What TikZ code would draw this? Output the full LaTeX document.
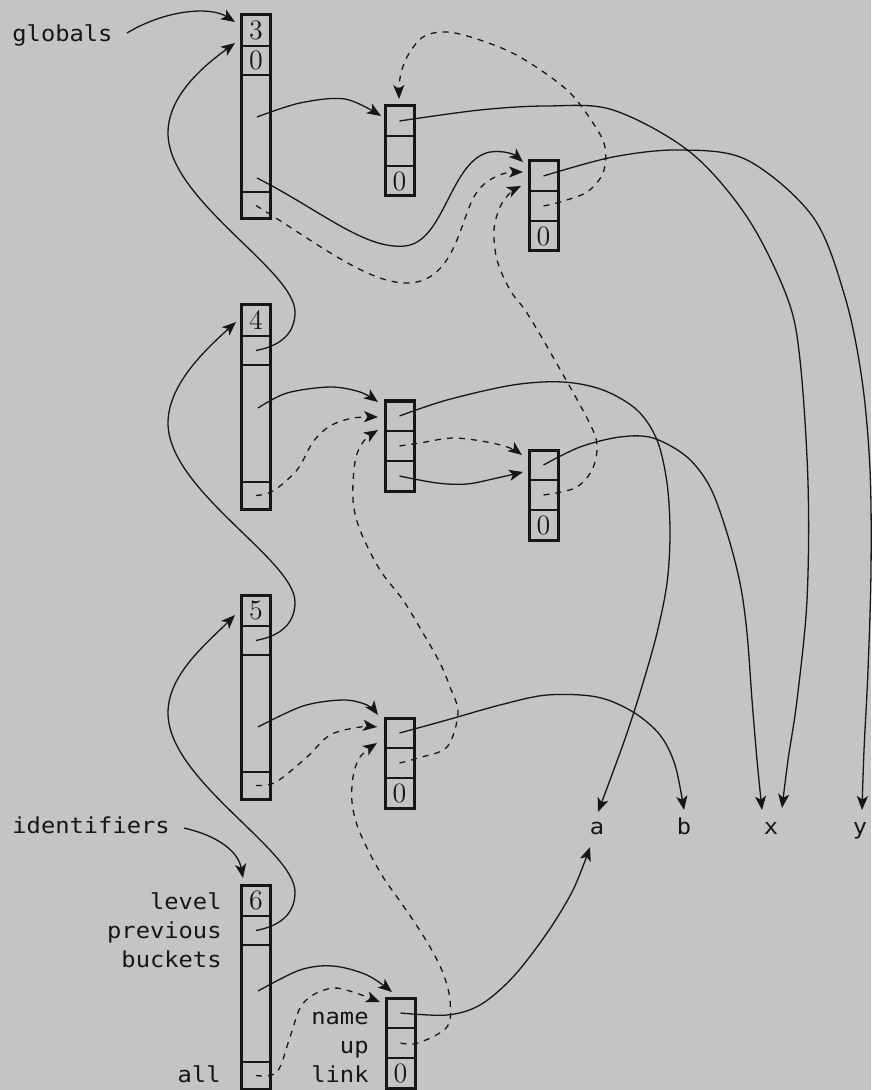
\documentclass[tikz,border=0pt]{standalone}
\usepackage{fontspec}
\newfontfamily\lblfont[FakeStretch=1.08]{DejaVu Sans Mono}
\usetikzlibrary{arrows.meta}
\definecolor{bg}{RGB}{195,196,198}
\definecolor{ink}{RGB}{22,22,22}
\newcommand\symtab[4]{%
  \node[cell, minimum height=15.5pt] (#1-level) at (256,#2) {#3};
  \node[cell, minimum height=14.5pt] (#1-prev) at (256,#2+31) {#4};
  \node[cell, minimum height=58.5pt] (#1-buckets) at (256,#2+60) {};
  \node[cell, minimum height=13.5pt] (#1-all) at (256,#2+177) {};
  \draw[frame] (#1-level.north west) rectangle (#1-all.south east);
}
\newcommand\symentry[5]{%
  \node[cell, minimum height=15pt, anchor=north west] (#1-name) at (#2,#3) {};
  \node[cell, minimum height=15pt, anchor=north west] (#1-up) at (#2,#3+30) {#4};
  \node[cell, minimum height=15pt, anchor=north west] (#1-link) at (#2,#3+60) {#5};
  \draw[frame] (#1-name.north west) rectangle (#1-link.south east);
}
\begin{document}
\begin{tikzpicture}[x=0.5pt,y=-0.5pt,
  ptr/.style={draw=ink, line width=0.65pt, -{Stealth[length=7pt,width=5.6pt,inset=1.8pt]}},
  dptr/.style={ptr, dash pattern=on 3pt off 3pt},
  cell/.style={draw=ink, line width=0.6pt, minimum width=14.5pt, inner sep=0pt, outer sep=0pt, anchor=north, font=\fontsize{14}{14}\selectfont, text=ink},
  frame/.style={draw=ink, line width=1.5pt},
  lbl/.style={font=\lblfont\fontsize{11}{11}\selectfont, text=ink, inner sep=0pt},
  smooth path/.style={smooth, tension=0.55}
]
\fill[bg] (0,0) rectangle (871,1090);
\useasboundingbox (0,0) rectangle (871,1090);

% tables
\symtab{t3}{15}{3}{0}
\symtab{t4}{305}{4}{}
\symtab{t5}{595}{5}{}
\symtab{t6}{885}{6}{}

% entries
\symentry{e1}{385}{106}{}{0}
\symentry{e2}{529}{161}{}{0}
\symentry{e4a}{385}{401}{}{}
\symentry{e4b}{529}{450}{}{0}
\symentry{e5}{385}{718}{}{0}
\symentry{e6}{386}{998}{}{0}

% labels
\node[lbl, anchor=base west] (globals) at (12,42) {globals};
\node[lbl, anchor=base west] (identifiers) at (12,833) {identifiers};
\node[lbl, anchor=base east] (lvl) at (222,909) {level};
\node[lbl, anchor=base east] (prv) at (222,938) {previous};
\node[lbl, anchor=base east] (bkt) at (222,967) {buckets};
\node[lbl, anchor=base east] (alll) at (221,1082) {all};
\node[lbl, anchor=base east] (nm) at (369,1024) {name};
\node[lbl, anchor=base east] (upl) at (369,1053) {up};
\node[lbl, anchor=base east] (lnk) at (369,1082) {link};
\node[lbl, anchor=base] (a) at (597,834) {a};
\node[lbl, anchor=base] (b) at (684,834) {b};
\node[lbl, anchor=base] (x) at (771,834) {x};
\node[lbl, anchor=base] (y) at (860,834) {y};

% connector end points
\coordinate (g-out) at (127,33);
\coordinate (id-out) at (184,828);
\coordinate (t3-in1) at (235,22);
\coordinate (t3-in2) at (235,43);
\coordinate (t4-in) at (236,322);
\coordinate (t5-in) at (235,615);
\coordinate (t6-in) at (243,878);
\coordinate (t3-b1) at (257,117);
\coordinate (t3-b2) at (257,178);
\coordinate (t4-b) at (258,408);
\coordinate (t5-b) at (258,727);
\coordinate (t6-b) at (258,991);
\coordinate (e1-in) at (381,116);
\coordinate (e1-top) at (399,99);
\coordinate (e2-in1) at (523,162);
\coordinate (e2-in2) at (523,172);
\coordinate (e2-in3) at (521,186);
\coordinate (e4a-in1) at (378,402);
\coordinate (e4a-in2) at (378,417);
\coordinate (e4a-in3) at (378,430);
\coordinate (e4b-in1) at (522,455);
\coordinate (e4b-in2) at (523,472);
\coordinate (e5-in1) at (378,715);
\coordinate (e5-in2) at (377,727);
\coordinate (e5-in3) at (377,743);
\coordinate (e6-in1) at (392,992);
\coordinate (e6-in2) at (380,1002);
\coordinate (a-top) at (598,812);
\coordinate (a-bot) at (590,847);
\coordinate (b-top) at (684,810);
\coordinate (x-top1) at (762,810);
\coordinate (x-top2) at (782,808);
\coordinate (y-top) at (862,810);

% entry pointers
\draw[ptr] (g-out) .. controls (165,10) and (210,6) .. (t3-in1);
\draw[ptr] (id-out) .. controls (215,835) and (238,850) .. (t6-in);

% previous links
\draw[ptr] (t4-prev.center) .. controls (285,345) and (295,330) .. (295,312)
  .. controls (295,270) and (168,200) .. (168,133)
  .. controls (168,95) and (205,65) .. (t3-in2);
\draw[ptr] (t5-prev.center) .. controls (285,635) and (295,620) .. (295,602)
  .. controls (295,560) and (168,490) .. (168,423)
  .. controls (168,385) and (205,350) .. (t4-in);
\draw[ptr] (t6-prev.center) .. controls (285,925) and (295,910) .. (295,892)
  .. controls (295,850) and (168,780) .. (168,713)
  .. controls (168,675) and (205,645) .. (t5-in);

% bucket links
\draw[ptr] plot[smooth path] coordinates {(t3-b1) (300,103) (345,99) (e1-in)};
\draw[ptr] (t3-b2) .. controls (320,210) and (365,250) .. (405,246)
  .. controls (445,242) and (450,160) .. (490,152)
  .. controls (505,150) and (515,155) .. (e2-in1);
\draw[ptr] plot[smooth path] coordinates {(t4-b) (287,393) (330,387) (360,392) (e4a-in1)};
\draw[ptr] plot[smooth path] coordinates {(t5-b) (303,706) (343,700) (367,705) (e5-in1)};
\draw[ptr] plot[smooth path] coordinates {(t6-b) (300,970) (333,966) (367,975) (e6-in1)};

% all links (dashed)
\draw[dptr] (t3-all.center) .. controls (320,245) and (370,285) .. (410,283)
  .. controls (455,280) and (460,220) .. (475,195)
  .. controls (485,178) and (505,172) .. (e2-in2);
\draw[dptr] plot[smooth path] coordinates {(t4-all.center) (273,491) (297,470) (313,442) (330,426) (353,418) (e4a-in2)};
\draw[dptr] plot[smooth path] coordinates {(t5-all.center) (276,782) (307,757) (330,735) (360,727) (e5-in2)};
\draw[dptr] plot[smooth path] coordinates {(t6-all.center) (277,1072) (290,1037) (300,1008) (313,995) (333,988) (353,992) (e6-in2)};

% up links (dashed)
\draw[dptr] plot[smooth path] coordinates {(e2-up.center) (560,202) (587,192) (603,173) (605,147) (593,123) (567,90) (520,57) (480,40) (447,32) (423,37) (407,57) (400,78) (e1-top)};
\draw[dptr] plot[smooth path] coordinates {(e4a-up.center) (420,443) (453,438) (487,442) (510,448) (e4b-in1)};
\draw[dptr] plot[smooth path] coordinates {(e4b-up.center) (575,488) (592,470) (597,445) (588,420) (553,357) (527,313) (510,290) (497,260) (494,230) (500,207) (510,193) (e2-in3)};
\draw[dptr] plot[smooth path] coordinates {(e5-up.center) (418,758) (447,747) (458,713) (450,687) (440,663) (423,633) (403,600) (380,570) (360,530) (353,500) (355,462) (363,442) (e4a-in3)};
\draw[dptr] plot[smooth path] coordinates {(e6-up.center) (418,1043) (447,1027) (450,1000) (443,973) (430,947) (413,920) (397,897) (383,877) (368,850) (357,825) (352,802) (353,777) (360,757) (e5-in3)};

% link (hash chain)
\draw[ptr] plot[smooth path] coordinates {(e4a-link.center) (437,483) (467,484) (497,478) (e4b-in2)};

% name links
\draw[ptr] plot[smooth path] coordinates {(e1-name.center) (480,110) (547,106) (613,110) (690,152) (747,217) (787,297) (800,360) (808,483) (807,600) (797,700) (788,760) (x-top2)};
\draw[ptr] plot[smooth path] coordinates {(e2-name.center) (613,157) (680,150) (747,160) (813,217) (845,297) (862,380) (870,470) (871,570) (868,670) (864,750) (y-top)};
\draw[ptr] plot[smooth path] coordinates {(e4a-name.center) (447,400) (513,385) (563,382) (603,390) (637,410) (657,440) (667,483) (670,533) (667,583) (657,633) (643,683) (627,733) (610,780) (a-top)};
\draw[ptr] plot[smooth path] coordinates {(e4b-name.center) (580,447) (620,437) (653,438) (687,457) (710,487) (727,533) (740,583) (747,633) (752,700) (757,760) (x-top1)};
\draw[ptr] plot[smooth path] coordinates {(e5-name.center) (447,720) (500,705) (547,695) (597,697) (633,712) (660,735) (675,765) (b-top)};
\draw[ptr] plot[smooth path] coordinates {(e6-name.center) (447,1015) (480,1005) (513,977) (547,933) (573,890) (a-bot)};
\end{tikzpicture}
\end{document}
